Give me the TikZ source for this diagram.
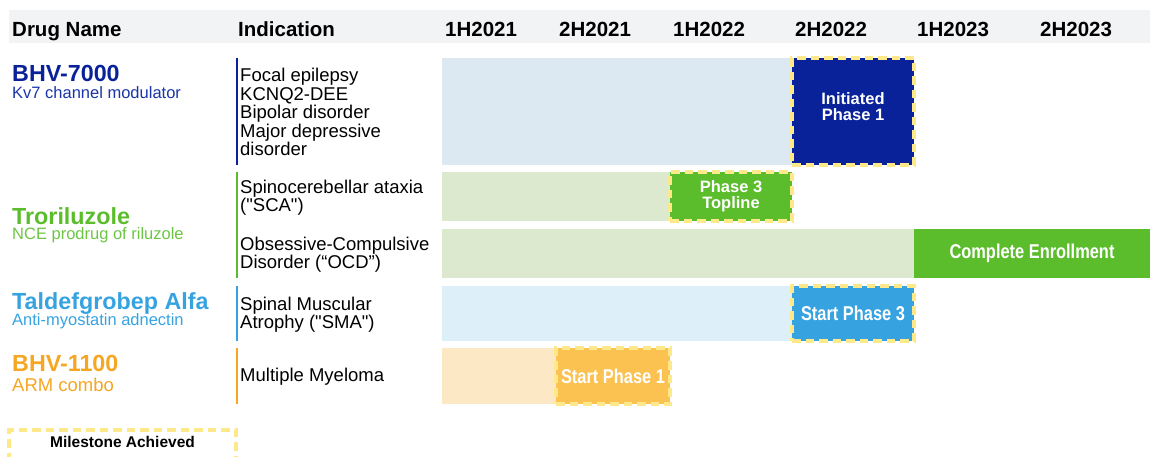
\documentclass[tikz,border=0pt]{standalone}
\usepackage{fontspec}
\setmainfont{Liberation Sans}[Ligatures=TeXOff]
\newfontfamily\narrowfont[FakeStretch=0.82,Ligatures=TeXOff]{Liberation Sans}
\definecolor{hdrgray}{HTML}{F2F3F5}
\definecolor{navy}{HTML}{0A2299}
\definecolor{navysub}{HTML}{1A35A8}
\definecolor{leaf}{HTML}{5BBD2B}
\definecolor{leafsub}{HTML}{6CC644}
\definecolor{sky}{HTML}{36A3E0}
\definecolor{amber}{HTML}{F5A623}
\definecolor{amberbox}{HTML}{FBC252}
\definecolor{navylight}{HTML}{DCE9F2}
\definecolor{leaflight}{HTML}{DDE9CF}
\definecolor{skylight}{HTML}{DDF0FA}
\definecolor{amberlight}{HTML}{FDE8C6}
\definecolor{milestone}{HTML}{FDE98A}
\tikzset{
  hdr/.style={anchor=base west, inner sep=0, font=\fontsize{20.5}{22}\selectfont\bfseries},
  drugname/.style={anchor=base west, inner sep=0, text depth=0pt, font=\fontsize{23.3}{25}\selectfont\bfseries},
  drugsub/.style={anchor=base west, inner sep=0, font=\fontsize{16.5}{18}\selectfont},
  ind/.style={anchor=west, inner sep=0, align=left, font=\fontsize{18.5}{18.4}\selectfont},
  goal/.style={draw=milestone, line width=3.8pt, dash pattern=on 8.5pt off 5pt, anchor=north west,
    inner sep=0, outer sep=0, text=white, align=center},
  goaltext/.style={font=\fontsize{16.5}{16}\selectfont\bfseries},
  goalnarrow/.style={font=\fontsize{20}{20}\selectfont\narrowfont\bfseries},
}
\begin{document}
\begin{tikzpicture}[x=1pt,y=-1pt]
\useasboundingbox (0,0) rectangle (1150,456);
% header band
\fill[hdrgray] (9,10) rectangle (1150,43);
\node[hdr] (drug) at (12,36.7) {Drug Name};
\node[hdr] (indication) at (238,36.7) {Indication};
\foreach \x/\t [count=\i] in {445/1H2021, 559/2H2021, 673/1H2022, 795/2H2022, 917/1H2023, 1040/2H2023} % edit here for the halves
\node[hdr] (half\i) at (\x,36.7) {\t};
% drug names
\node[drugname, text=navy] (bhv7000) at (12,81.5) {BHV-7000};
\node[drugsub, text=navysub] (kv7) at (12,98.2) {Kv7 channel modulator};
\node[drugname, text=leaf] (trori) at (12,224) {Troriluzole};
\node[drugsub, text=leafsub] (nce) at (12,239.8) {NCE prodrug of riluzole};
\node[drugname, text=sky] (taldef) at (12,309) {Taldefgrobep Alfa};
\node[drugsub, text=sky] (antimyo) at (12,325) {Anti-myostatin adnectin};
\node[drugname, text=amber] (bhv1100) at (12,371.7) {BHV-1100};
\node[drugsub, text=amber, font=\fontsize{18.5}{20}\selectfont] (arm) at (12,391) {ARM combo};
% indication rules
\foreach \y/\z/\c in {58/165/navy, 172/278/leaf, 286/341/sky, 348/404/amber} % edit here for the rules
\draw[\c, line width=2pt] (237,\y) -- (237,\z);
% indications
\node[ind] (focal) at (240,112) {Focal epilepsy\\KCNQ2-DEE\\Bipolar disorder\\Major depressive\\disorder};
\node[ind] (sca) at (240,198) {Spinocerebellar ataxia\\("SCA")};
\node[ind] (ocd) at (240,255) {Obsessive-Compulsive\\Disorder (“OCD”)};
\node[ind] (sma) at (240,315) {Spinal Muscular\\Atrophy ("SMA")};
\node[ind, anchor=base west] (mm) at (240,381.7) {Multiple Myeloma};
% timeline bars
\fill[navylight] (442,58) rectangle (792,165);
\fill[leaflight] (442,172) rectangle (670,221);
\fill[leaflight] (442,229) rectangle (914,278);
\fill[skylight] (442,286) rectangle (792,341);
\fill[amberlight] (442,348) rectangle (556,404);
% milestones
\node[goal, goaltext, fill=navy, minimum width=122, minimum height=107] (init) at (792,58) {Initiated\\Phase 1\\[-6pt]};
\node[goal, goaltext, fill=leaf, minimum width=122, minimum height=49] (topline) at (670,172) {Phase 3\\Topline};
\node[goal, goalnarrow, draw=none, fill=leaf, minimum width=236, minimum height=49] (enroll) at (914,229) {Complete Enrollment};
\node[goal, goalnarrow, fill=sky, minimum width=122, minimum height=55] (startp3) at (792,286) {Start Phase 3};
\node[goal, goalnarrow, fill=amberbox, minimum width=114, minimum height=56] (startp1) at (556,348) {Start Phase 1};
% legend
\node[goal, minimum width=227, minimum height=50] (legend) at (9,430) {};
\node[anchor=base, inner sep=0, font=\fontsize{15.5}{17}\selectfont\bfseries] (legendtext) at (122.5,447.7) {Milestone Achieved};
\end{tikzpicture}
\end{document}
